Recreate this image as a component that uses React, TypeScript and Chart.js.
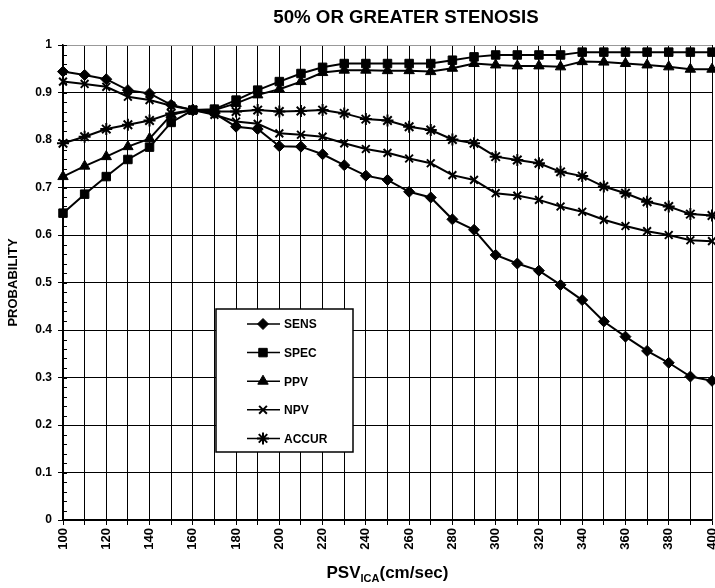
import React, { useEffect, useRef } from 'react';
import { Chart, registerables } from 'chart.js';
import { drawPoint } from 'chart.js/helpers';

Chart.register(...registerables);

const TITLE = '50% OR GREATER STENOSIS';
const Y_TITLE = 'PROBABILITY';

const PSV = [100, 110, 120, 130, 140, 150, 160, 170, 180, 190, 200, 210, 220, 230, 240, 250, 260, 270, 280, 290, 300, 310, 320, 330, 340, 350, 360, 370, 380, 390, 400];

const SENS = [0.944, 0.937, 0.928, 0.905, 0.898, 0.874, 0.863, 0.856, 0.828, 0.823, 0.787, 0.786, 0.770, 0.747, 0.725, 0.716, 0.691, 0.679, 0.633, 0.611, 0.558, 0.540, 0.525, 0.495, 0.463, 0.418, 0.386, 0.356, 0.331, 0.302, 0.293];
const SPEC = [0.646, 0.686, 0.723, 0.759, 0.785, 0.837, 0.863, 0.865, 0.884, 0.905, 0.923, 0.940, 0.953, 0.961, 0.961, 0.961, 0.961, 0.961, 0.968, 0.975, 0.979, 0.979, 0.979, 0.979, 0.985, 0.985, 0.985, 0.985, 0.985, 0.985, 0.985];
const PPV = [0.723, 0.745, 0.765, 0.786, 0.803, 0.853, 0.863, 0.863, 0.877, 0.895, 0.907, 0.923, 0.942, 0.947, 0.947, 0.946, 0.946, 0.944, 0.951, 0.961, 0.958, 0.956, 0.956, 0.954, 0.965, 0.964, 0.961, 0.958, 0.954, 0.949, 0.949];
const NPV = [0.923, 0.918, 0.912, 0.891, 0.884, 0.872, 0.863, 0.853, 0.839, 0.834, 0.814, 0.811, 0.807, 0.793, 0.781, 0.773, 0.761, 0.751, 0.726, 0.716, 0.688, 0.683, 0.674, 0.660, 0.649, 0.632, 0.619, 0.608, 0.600, 0.589, 0.587];
const ACCUR = [0.793, 0.807, 0.823, 0.832, 0.841, 0.856, 0.863, 0.860, 0.860, 0.863, 0.860, 0.861, 0.863, 0.856, 0.844, 0.841, 0.828, 0.821, 0.801, 0.793, 0.765, 0.758, 0.751, 0.733, 0.724, 0.702, 0.688, 0.670, 0.660, 0.644, 0.641];

const SERIES_NAMES = ['SENS', 'SPEC', 'PPV', 'NPV', 'ACCUR'];
const SERIES_VALUES = [SENS, SPEC, PPV, NPV, ACCUR];
const POINT_STYLES = ['rectRot', 'rect', 'triangle', 'crossRot', 'star'];
const POINT_RADII = [5.5, 6, 6, 5.5, 6];
const POINT_BORDERS = [1, 1, 1, 2, 2];

const FONT = '"Liberation Sans", Arial, Helvetica, sans-serif';

const minorTicksPlugin = {
  id: 'minorTicks',
  afterDraw(chart: any) {
    const y = chart.scales.y;
    const ctx = chart.ctx;
    const left = chart.chartArea.left;
    ctx.save();
    ctx.strokeStyle = '#000';
    ctx.lineWidth = 1;
    for (let i = 0; i <= 50; i++) {
      const py = Math.round(y.getPixelForValue(i / 50)) + 0.5;
      ctx.beginPath();
      ctx.moveTo(left, py);
      ctx.lineTo(left + 4, py);
      ctx.stroke();
    }
    ctx.restore();
  },
};

const boxLegendPlugin = {
  id: 'boxLegend',
  afterDraw(chart: any) {
    const ctx = chart.ctx;
    const bx = 216, by = 309, bw = 137, bh = 143;
    ctx.save();
    ctx.fillStyle = '#fff';
    ctx.fillRect(bx, by, bw, bh);
    ctx.strokeStyle = '#000';
    ctx.lineWidth = 1.5;
    ctx.strokeRect(bx, by, bw, bh);
    const rowGap = 28.6;
    chart.data.datasets.forEach((ds: any, i: number) => {
      const ry = by + 15 + i * rowGap;
      ctx.strokeStyle = '#000';
      ctx.lineWidth = 1.5;
      ctx.beginPath();
      ctx.moveTo(bx + 31, ry);
      ctx.lineTo(bx + 64, ry);
      ctx.stroke();
      ctx.fillStyle = '#000';
      ctx.lineWidth = POINT_BORDERS[i];
      drawPoint(ctx, { pointStyle: ds.pointStyle, radius: ds.pointRadius, borderWidth: POINT_BORDERS[i], rotation: 0 }, bx + 47, ry);
      ctx.fillStyle = '#000';
      ctx.font = 'bold 12px ' + FONT;
      ctx.textBaseline = 'middle';
      ctx.textAlign = 'left';
      ctx.fillText(ds.label, bx + 68, ry + 1);
    });
    ctx.restore();
  },
};

export default function App() {
  const ref = useRef<HTMLCanvasElement | null>(null);

  useEffect(() => {
    if (!ref.current) return;
    const chart = new Chart(ref.current, {
      type: 'line',
      data: {
        datasets: SERIES_NAMES.map((name, i) => ({
          label: name,
          data: PSV.map((x, j) => ({ x, y: SERIES_VALUES[i][j] })),
          borderColor: '#000',
          backgroundColor: '#000',
          borderWidth: 2,
          pointStyle: POINT_STYLES[i],
          pointRadius: POINT_RADII[i],
          pointBorderWidth: POINT_BORDERS[i],
          pointBackgroundColor: '#000',
          pointBorderColor: '#000',
          tension: 0,
          clip: false,
        })),
      },
      options: {
        animation: false,
        responsive: true,
        maintainAspectRatio: false,
        layout: { autoPadding: false, padding: { top: 45, right: 3, left: 0, bottom: 0 } },
        plugins: {
          legend: { display: false },
          title: { display: false },
          tooltip: { enabled: false },
        },
        scales: {
          x: {
            type: 'linear',
            min: 100,
            max: 400,
            ticks: {
              stepSize: 10,
              autoSkip: false,
              maxRotation: 90,
              minRotation: 90,
              padding: 3,
              color: '#000',
              font: { family: FONT, size: 13, weight: 'bold' },
              callback: (v: any) => (Number(v) % 20 === 0 ? String(v) : ''),
            },
            grid: { color: '#000', lineWidth: 1, drawTicks: true, tickLength: 5, tickColor: '#000' },
            border: { color: '#000', width: 1.5 },
            afterFit: (s: any) => {
              s.height = 68;
              s.paddingLeft = 0;
              s.paddingRight = 0;
            },
          },
          y: {
            min: 0,
            max: 1,
            ticks: {
              stepSize: 0.1,
              padding: 6,
              color: '#000',
              font: { family: FONT, size: 12, weight: 'bold' },
              callback: (v: any) => {
                const r = Math.round(Number(v) * 10) / 10;
                return r === 0 ? '0' : r === 1 ? '1' : r.toFixed(1);
              },
            },
            grid: {
              color: (c: any) => (c.tick && Math.abs(c.tick.value - 1) < 1e-6 ? '#999' : '#000'),
              lineWidth: 1,
              tickLength: 5,
              tickColor: '#000',
            },
            border: { color: '#000', width: 1.5 },
            title: {
              display: true,
              text: Y_TITLE,
              color: '#000',
              font: { family: FONT, size: 13, weight: 'bold' },
              padding: { top: 6, bottom: 0 },
            },
            afterFit: (s: any) => {
              s.width = 63;
            },
          },
        },
      },
      plugins: [minorTicksPlugin, boxLegendPlugin],
    } as any);
    return () => chart.destroy();
  }, []);

  return (
    <div style={{ position: 'fixed', left: 0, top: 0, width: 715, height: 588, background: '#fff' }}>
      <canvas ref={ref} />
      <div
        style={{
          position: 'absolute', left: 0, top: 7, width: 812, textAlign: 'center',
          fontFamily: FONT, fontWeight: 'bold', fontSize: 18.7, lineHeight: '20px', color: '#000', whiteSpace: 'nowrap',
        }}
      >
        {TITLE}
      </div>
      <div
        style={{
          position: 'absolute', left: 0, top: 563, width: 775, textAlign: 'center',
          fontFamily: FONT, fontWeight: 'bold', fontSize: 17, lineHeight: '20px', color: '#000', whiteSpace: 'nowrap',
        }}
      >
        PSV<sub style={{ fontSize: 11, verticalAlign: '-4px', lineHeight: 0 }}>ICA</sub>(cm/sec)
      </div>
    </div>
  );
}
